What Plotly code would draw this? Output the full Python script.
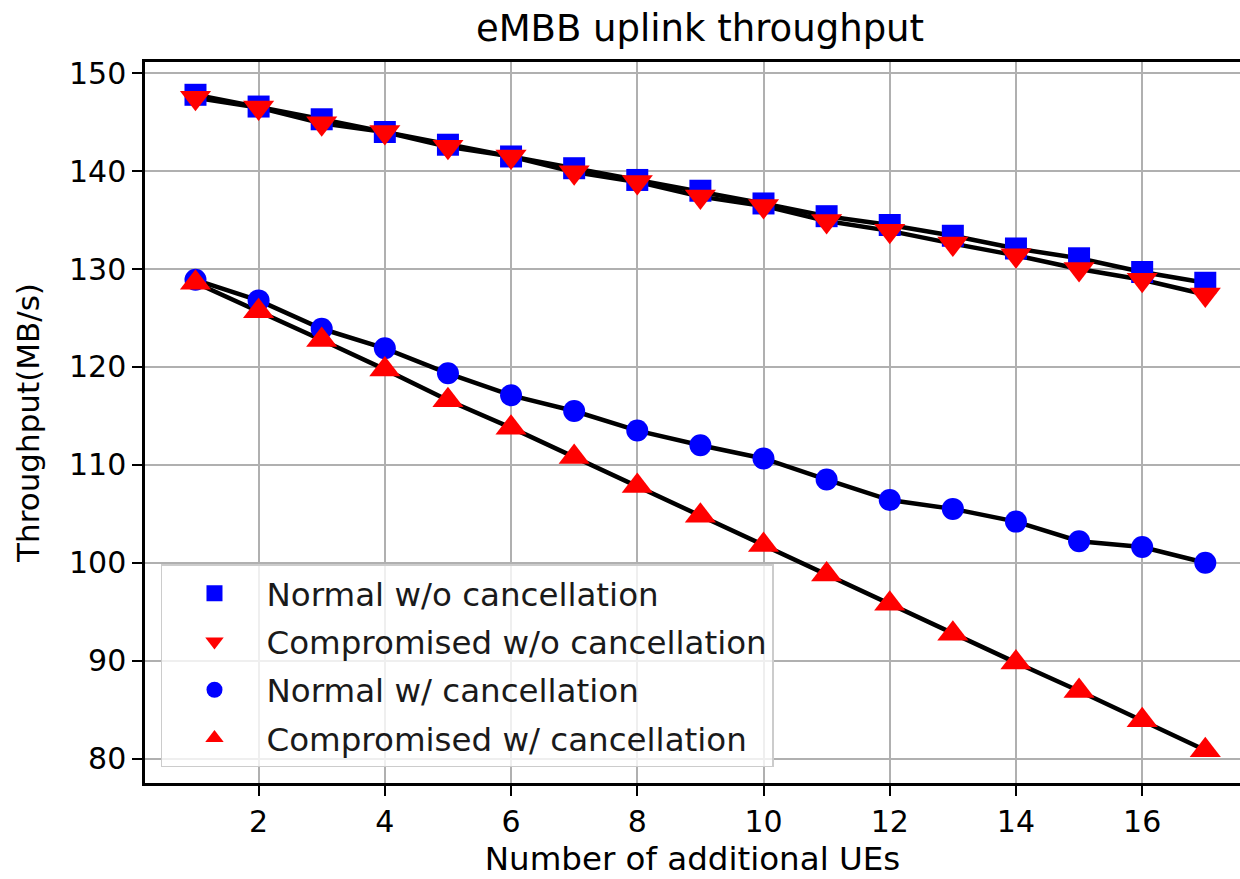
import plotly.graph_objects as go

ues = list(range(1, 18))
normal_wo = [147.8, 146.6, 145.3, 144.0, 142.7, 141.5, 140.3, 139.1, 138.0, 136.7,
             135.4, 134.5, 133.4, 132.1, 131.1, 129.7, 128.6]
comp_wo = [147.5, 146.5, 144.9, 144.0, 142.5, 141.5, 139.9, 138.9, 137.4, 136.45,
           134.9, 133.9, 132.6, 131.4, 130.0, 128.9, 127.4]
normal_w = [128.9, 126.8, 123.9, 121.9, 119.35, 117.1, 115.5, 113.5, 112.0, 110.65,
            108.5, 106.4, 105.5, 104.2, 102.2, 101.6, 100.0]
comp_w = [128.6, 125.7, 122.75, 119.75, 116.6, 113.8, 110.8, 107.85, 104.8, 101.8,
          98.8, 95.8, 92.75, 89.8, 86.9, 83.9, 80.85]

series = [
    ("Normal w/o cancellation", normal_wo, "square", "#0000ff", 22),
    ("Compromised w/o cancellation", comp_wo, "triangle-down", "#ff0000", 27),
    ("Normal w/ cancellation", normal_w, "circle", "#0000ff", 22),
    ("Compromised w/ cancellation", comp_w, "triangle-up", "#ff0000", 27),
]

FONT = "DejaVu Sans"
fig = go.Figure()

for name, vals, sym, col, sz in series:
    fig.add_trace(go.Scatter(x=ues, y=vals, mode="lines",
                             line=dict(color="black", width=4.5),
                             showlegend=False, hoverinfo="skip"))

for i, (name, vals, sym, col, sz) in enumerate(series):
    fig.add_trace(go.Scatter(x=ues, y=vals, mode="markers", name=name,
                             legendgroup=f"g{i}",
                             marker=dict(symbol=sym, color=col, size=sz,
                                         line=dict(width=0))))

fig.update_layout(
    width=1240, height=879,
    margin=dict(l=145, r=0, t=62, b=96),
    paper_bgcolor="white", plot_bgcolor="white",
    font=dict(family=FONT, color="black", size=30),
    title=dict(text="eMBB uplink throughput", x=700/1240, xref="container",
               xanchor="center", y=(879-28)/879, yref="container",
               yanchor="middle", font=dict(size=37, family=FONT, color="black")),
    showlegend=True,
    legend=dict(x=0.0146, y=0.022, xanchor="left", yanchor="bottom",
                bgcolor="rgba(255,255,255,0.8)", bordercolor="#cccccc",
                borderwidth=1.5, font=dict(size=32.5, family=FONT, color="#1a1a1a"),
                tracegroupgap=3, itemwidth=94),
)

fig.update_xaxes(range=[0.2, 17.55], tickmode="linear", tick0=0, dtick=2,
                 showgrid=True, gridcolor="#b0b0b0", gridwidth=2,
                 showline=True, linecolor="black", linewidth=2.5, mirror=True,
                 ticks="outside", ticklen=10, tickwidth=2, tickcolor="black",
                 zeroline=False, tickfont=dict(size=30, family=FONT),
                 title=dict(text="Number of additional UEs", standoff=10,
                            font=dict(size=32.5, family=FONT)))
fig.update_yaxes(range=[77.5, 151.15], tickmode="linear", tick0=0, dtick=10,
                 showgrid=True, gridcolor="#b0b0b0", gridwidth=2,
                 showline=True, linecolor="black", linewidth=2.5, mirror=False,
                 ticks="outside", ticklen=10, tickwidth=2, tickcolor="black",
                 zeroline=False, tickfont=dict(size=30, family=FONT),
                 title=dict(text="Throughput(MB/s)", standoff=21,
                            font=dict(size=31, family=FONT)))

fig.write_html("out.html", config={"displayModeBar": False},
               post_script="document.body.style.margin='0';")
